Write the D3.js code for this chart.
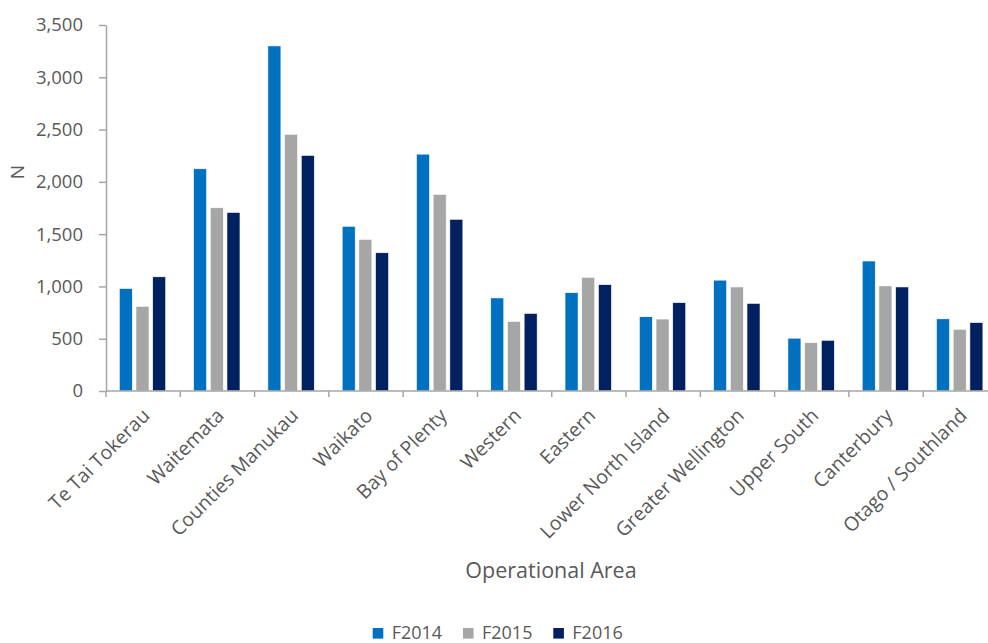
<!DOCTYPE html>
<html>
<head>
<meta charset="utf-8">
<script src="https://cdn.jsdelivr.net/npm/d3@7"></script>
<style>
  html, body { margin: 0; padding: 0; background: #fff; }
  svg { display: block; font-family: "Open Sans", "Segoe UI", sans-serif; }
</style>
</head>
<body>
<svg id="chart" width="988" height="643"></svg>
<script>
// Operational areas shown along the x axis
const areas = [
  "Te Tai Tokerau", "Waitemata", "Counties Manukau", "Waikato", "Bay of Plenty",
  "Western", "Eastern", "Lower North Island", "Greater Wellington",
  "Upper South", "Canterbury", "Otago / Southland"
];
// Counts per financial year
const f2014 = [980, 2125, 3300, 1575, 2265, 890, 940, 710, 1060, 505, 1243, 690];
const f2015 = [810, 1752, 2455, 1450, 1880, 665, 1087, 688, 995, 462, 1005, 590];
const f2016 = [1092, 1708, 2253, 1322, 1642, 742, 1017, 845, 838, 485, 995, 655];
const seriesNames = ["F2014", "F2015", "F2016"];
const seriesColors = ["#0070C0", "#A6A6A6", "#002060"];
const yTicks = [0, 500, 1000, 1500, 2000, 2500, 3000, 3500];

const series = [f2014, f2015, f2016];
const svg = d3.select("#chart");
const textColor = "#595959";
const axisColor = "#A6A6A6";

const x0 = d3.scaleBand().domain(areas).range([106, 997.5]).paddingInner(0).paddingOuter(0);
const x1 = d3.scaleBand().domain(seriesNames).range([13.3, x0.bandwidth() - 14.6]).paddingInner(0.22).paddingOuter(0);
const y = d3.scaleLinear().domain([0, 3500]).range([391, 25]);

// Bars
const groups = svg.append("g").selectAll("g")
  .data(areas)
  .join("g")
  .attr("transform", d => `translate(${x0(d)},0)`);

groups.selectAll("rect")
  .data((d, i) => seriesNames.map((s, k) => ({ s, v: series[k][i], k })))
  .join("rect")
  .attr("x", d => x1(d.s))
  .attr("width", x1.bandwidth())
  .attr("y", d => y(d.v))
  .attr("height", d => y(0) - y(d.v))
  .attr("fill", d => seriesColors[d.k])
  .attr("stroke", "#ffffff")
  .attr("stroke-width", 0.6);

// Y axis
const yAxis = svg.append("g")
  .attr("transform", "translate(106,0)")
  .call(d3.axisLeft(y).tickValues(yTicks).tickFormat(d3.format(",")).tickSizeInner(7).tickSizeOuter(0).tickPadding(16));
yAxis.select(".domain").attr("stroke", axisColor).attr("stroke-width", 1.5);
yAxis.selectAll(".tick line").attr("stroke", axisColor).attr("stroke-width", 1.5);
yAxis.selectAll(".tick text")
  .attr("fill", textColor)
  .style("font-size", "18.5px")
  .style("font-family", "'Open Sans', sans-serif");

// X axis: baseline with ticks at group boundaries
const xAxisG = svg.append("g");
xAxisG.append("line")
  .attr("x1", 106).attr("x2", 997.5)
  .attr("y1", y(0)).attr("y2", y(0))
  .attr("stroke", axisColor).attr("stroke-width", 1.5);
xAxisG.selectAll("line.tk")
  .data(areas.concat(["__end"]))
  .join("line")
  .attr("class", "tk")
  .attr("x1", (d, i) => 106 + i * x0.step())
  .attr("x2", (d, i) => 106 + i * x0.step())
  .attr("y1", y(0)).attr("y2", y(0) + 6)
  .attr("stroke", axisColor).attr("stroke-width", 1.5);

// Rotated category labels
svg.append("g").selectAll("text")
  .data(areas)
  .join("text")
  .attr("transform", d => `translate(${x0(d) + x0.bandwidth() / 2 + 3},${y(0) + 21}) rotate(-45)`)
  .attr("text-anchor", "end")
  .attr("dy", "0.35em")
  .attr("fill", textColor)
  .style("font-size", "19.5px")
  .text(d => d);

// Axis titles
svg.append("text")
  .attr("transform", "translate(24,172) rotate(-90)")
  .attr("text-anchor", "middle")
  .attr("fill", textColor)
  .style("font-size", "19px")
  .text("N");

svg.append("text")
  .attr("x", 551).attr("y", 578)
  .attr("text-anchor", "middle")
  .attr("fill", textColor)
  .style("font-size", "21.5px")
  .text("Operational Area");

// Legend
const legend = svg.append("g").selectAll("g")
  .data(seriesNames)
  .join("g")
  .attr("transform", (d, i) => `translate(${372.7 + i * 90.3},628)`);
legend.append("rect")
  .attr("width", 10.6).attr("height", 10.6)
  .attr("fill", (d, i) => seriesColors[i]);
legend.append("text")
  .attr("x", 19).attr("y", 10.5)
  .attr("fill", textColor)
  .style("font-size", "18px")
  .text(d => d);
</script>
</body>
</html>
